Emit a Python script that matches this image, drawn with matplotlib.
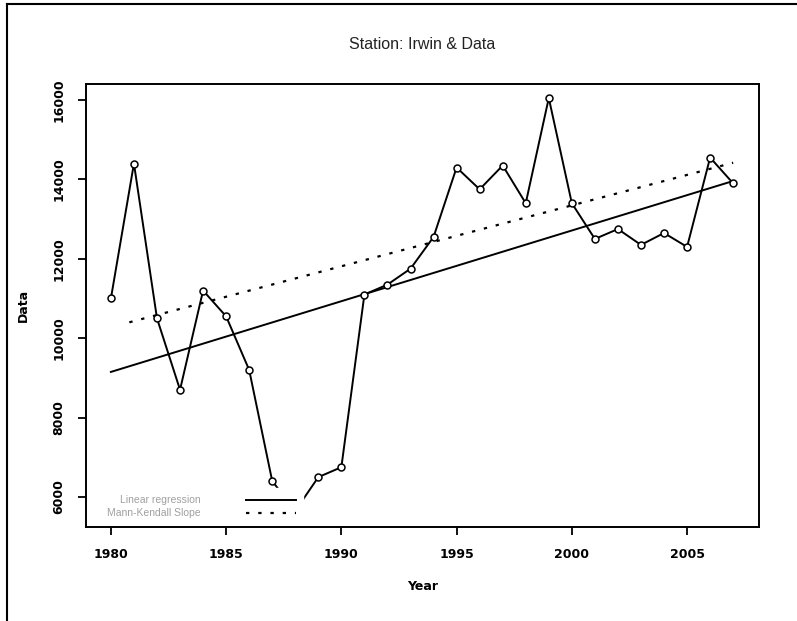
import numpy as np
import matplotlib
matplotlib.use("Agg")
import matplotlib.pyplot as plt
from matplotlib.lines import Line2D

years = np.arange(1980, 2008)
flow = [11000, 14400, 10500, 8700, 11200, 10550, 9200, 6400, 5650, 6500,
        6750, 11100, 11350, 11750, 12550, 14300, 13750, 14350, 13400, 16050,
        13400, 12500, 12750, 12350, 12650, 12300, 14550, 13900]

# fitted lines
lin_years = [1980, 2007]
lin_vals = [9150, 13960]
mk_years = [1980.8, 2007]
mk_vals = [10400, 14420]

xticks = [1980, 1985, 1990, 1995, 2000, 2005]
yticks = [6000, 8000, 10000, 12000, 14000, 16000]

fig = plt.figure(figsize=(7.97, 6.21), dpi=100)
ax = fig.add_axes([0.1079, 0.1514, 0.8444, 0.7133])

ax.plot(years, flow, color='black', lw=1.4, marker='o', ms=5,
        mfc='white', mec='black', mew=1.1, zorder=3)
ax.plot(lin_years, lin_vals, color='black', lw=1.4,
        label='Linear regression')
ax.plot(mk_years, mk_vals, color='black', lw=1.6, linestyle=(0, (1.5, 4)),
        label='Mann-Kendall Slope')

ax.set_xlim(1978.92, 2008.12)
ax.set_ylim(5244, 16403)
ax.set_xticks(xticks)
ax.set_yticks(yticks)
ax.set_xticklabels([str(t) for t in xticks], fontsize=9, fontweight='bold')
ax.set_yticklabels([str(t) for t in yticks], fontsize=9, fontweight='bold',
                   rotation=90, va='center')
ax.tick_params(axis='both', length=6, width=1.3, pad=9)
for s in ax.spines.values():
    s.set_linewidth(1.4)
    s.set_zorder(6)

ax.set_xlabel('Year', fontsize=9, fontweight='bold', labelpad=14)
ax.set_ylabel('Data', fontsize=9, fontweight='bold', labelpad=16)
ax.set_title('Station: Irwin & Data', fontsize=11.5, family='Liberation Sans',
             pad=25, color='#222222')

leg = ax.legend(loc='lower left', bbox_to_anchor=(0.021, 0.003),
                borderaxespad=0, markerfirst=False, frameon=True,
                fancybox=False, handlelength=4.8, handletextpad=4.3,
                labelspacing=0.3, borderpad=0.7,
                prop={'family': 'Liberation Sans', 'size': 7.5})
leg.get_frame().set_edgecolor('white')
leg.get_frame().set_facecolor('white')
leg.get_frame().set_alpha(1)
for t in leg.get_texts():
    t.set_color('#a0a0a0')

# outer frame lines (top and left)
fig.add_artist(Line2D([0.009, 1.0], [0.994, 0.994], color='black', lw=1.5))
fig.add_artist(Line2D([0.009, 0.009], [0.0, 0.994], color='black', lw=1.5))

fig.savefig('out.png', dpi=100)
